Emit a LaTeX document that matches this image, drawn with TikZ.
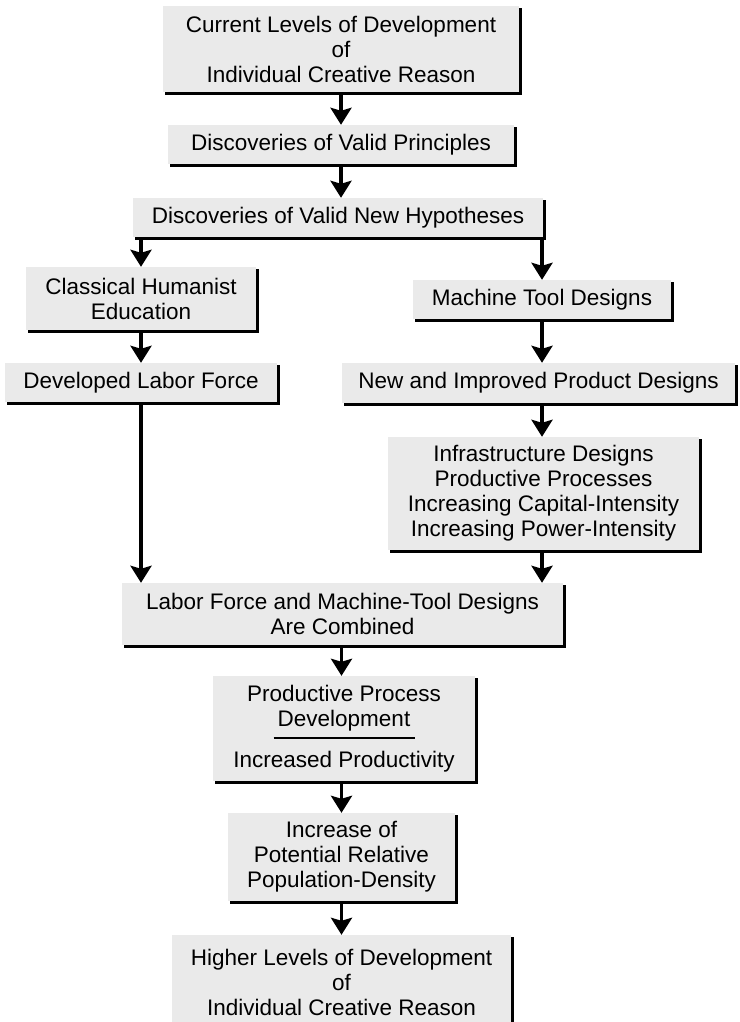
\documentclass[tikz,border=0pt]{standalone}
\usepackage{fontspec}
\setmainfont{Liberation Sans}
\usetikzlibrary{arrows.meta}
\definecolor{boxgray}{RGB}{234,234,234}
\tikzset{
  flowbox/.style={fill=boxgray, draw=none, inner sep=0pt, align=center,
    font=\fontsize{22.5}{25}\selectfont},
  shline/.style={line width=3pt, line join=miter, line cap=rect},
  arr/.style={line width=3.5pt, -{Stealth[width=21pt,length=17pt,inset=3pt]}}
}
\newcommand\mkbox[6]{%
  \node[flowbox, minimum width=(#4-#2)*1pt, minimum height=(#5-#3)*1pt]
    (#1) at ({(#2+#4)/2},{(#3+#5)/2}) {#6};
}
\newcommand\mkshadow[1]{%
  \draw[shline] ([xshift=1.5pt,yshift=-4pt]#1.north east)
    -- ([shift={(1.5pt,-1.5pt)}]#1.south east)
    -- ([xshift=4pt,yshift=-1.5pt]#1.south west);
}
\begin{document}
\begin{tikzpicture}[x=1pt,y=-1pt]
\useasboundingbox (0,0) rectangle (739,1022);
\mkbox{b1}{163}{6}{519}{92}{Current Levels of Development\\of\\Individual Creative Reason}
\mkbox{b2}{168}{125}{514}{164}{Discoveries of Valid Principles}
\mkbox{b3}{133}{198}{543}{237}{Discoveries of Valid New Hypotheses}
\mkbox{b4}{26}{267}{256}{330}{Classical Humanist\\Education}
\mkbox{b5}{413}{280}{671}{319}{Machine Tool Designs}
\mkbox{b6}{5}{363}{277}{402}{Developed Labor Force}
\mkbox{b7}{342}{363}{735}{403}{New and Improved Product Designs}
\mkbox{b8}{388}{437}{699}{550}{Infrastructure Designs\\Productive Processes\\Increasing Capital-Intensity\\Increasing Power-Intensity}
\mkbox{b9}{122}{583}{563}{645}{Labor Force and Machine-Tool Designs\\Are Combined}
\mkbox{b10}{213}{676}{475}{781}{Productive Process\\Development\\[-12pt]\rule{141pt}{2pt}\\[3pt]Increased Productivity}
\mkbox{b11}{228}{813}{455}{901}{Increase of\\Potential Relative\\Population-Density}
\mkbox{b12}{172}{935}{511}{1022}{}
\node[font=\fontsize{22.5}{25}\selectfont, align=center, inner sep=0pt] (t12) at (341.5,982) {Higher Levels of Development\\of\\Individual Creative Reason};
\foreach \b in {b1,b2,b3,b4,b5,b6,b7,b8,b9,b10,b11}{\mkshadow{\b}}
\draw[shline] ([xshift=1.5pt,yshift=-4pt]b12.north east) -- ([xshift=1.5pt]b12.south east);
% connectors
\draw[arr] (b1.south -| b2.north) -- (b2.north);
\draw[arr] (b2.south) -- (b3.north -| b2.south);
\draw[arr] (b3.south -| b4.north) -- (b4.north);
\draw[arr] (b3.south -| b5.north) -- (b5.north);
\draw[arr] (b4.south) -- (b6.north -| b4.south);
\draw[arr] (b5.south) -- (b7.north -| b5.south);
\draw[arr] (b7.south -| b5.south) -- (b8.north -| b5.south);
\draw[arr] (b6.south -| b4.south) -- (b9.north -| b4.south);
\draw[arr] (b8.south -| b5.south) -- (b9.north -| b5.south);
\draw[arr] (b9.south -| b11.north) -- (b10.north -| b11.north);
\draw[arr] (b10.south -| b11.north) -- (b11.north);
\draw[arr] (b11.south) -- (b12.north -| b11.south);
\end{tikzpicture}
\end{document}
